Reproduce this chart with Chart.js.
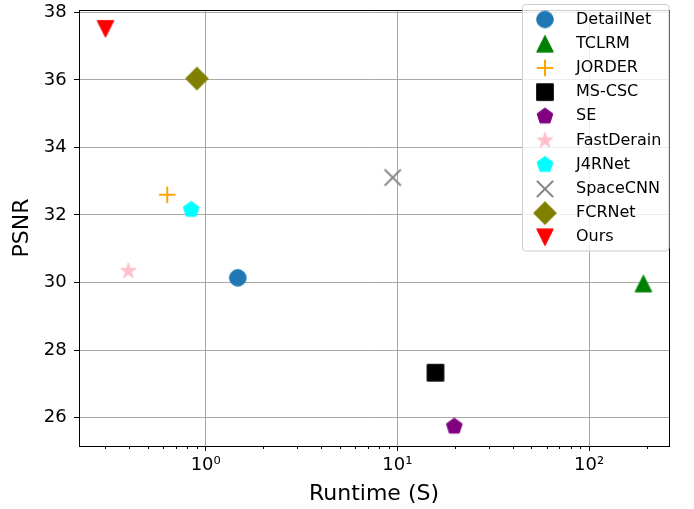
<!DOCTYPE html>
<html lang="en">
<head>
    <meta charset="UTF-8">
    <title>PSNR vs Runtime</title>
    <script src="https://cdn.jsdelivr.net/npm/chart.js"></script>
    <style>
        html, body { margin: 0; padding: 0; background: #fff; }
    </style>
</head>
<body>
    <canvas id="psnrChart" width="694" height="509"></canvas>

    <script>
        // data
        const methods = ['DetailNet', 'TCLRM', 'JORDER', 'MS-CSC', 'SE', 'FastDerain', 'J4RNet', 'SpaceCNN', 'FCRNet', 'Ours'];
        const runtimes = [1.47, 192, 0.63, 15.8, 19.8, 0.395, 0.84, 9.45, 0.90, 0.30];
        const psnrValues = [30.14, 29.97, 32.60, 27.33, 25.74, 30.34, 32.16, 33.11, 36.04, 37.51];
        const markerShapes = ['circle', 'triangleUp', 'plus', 'square', 'pentagon', 'star', 'pentagon', 'cross', 'diamond', 'triangleDown'];
        const markerColors = ['#1f77b4', '#008000', '#ffa500', '#000000', '#800080', '#ffc0cb', '#00ffff', '#808080', '#808000', '#ff0000'];
        const xMajorTicks = [1, 10, 100];
        const xTickLabels = ['10⁰', '10¹', '10²'];
        const xMinorTicks = [0.3, 0.4, 0.5, 0.6, 0.7, 0.8, 0.9, 2, 3, 4, 5, 6, 7, 8, 9, 20, 30, 40, 50, 60, 70, 80, 90, 200];
        const yTicks = [26, 28, 30, 32, 34, 36, 38];

        const FONT = "'DejaVu Sans', sans-serif";

        // matplotlib-like marker drawn on a small canvas, used as pointStyle
        function makeMarker(shape, color) {
            const size = 28, c = size / 2, r = 8.3;
            const cv = document.createElement('canvas');
            cv.width = size;
            cv.height = size;
            const g = cv.getContext('2d');
            g.fillStyle = color;
            g.strokeStyle = color;
            g.lineWidth = 1;
            g.beginPath();
            if (shape === 'plus' || shape === 'cross') {
                g.lineWidth = 2;
                if (shape === 'plus') {
                    g.moveTo(c - r, c); g.lineTo(c + r, c);
                    g.moveTo(c, c - r); g.lineTo(c, c + r);
                } else {
                    const d = r * 0.98;
                    g.moveTo(c - d, c - d); g.lineTo(c + d, c + d);
                    g.moveTo(c - d, c + d); g.lineTo(c + d, c - d);
                }
                g.stroke();
                return cv;
            }
            if (shape === 'circle') {
                g.arc(c, c, r, 0, Math.PI * 2);
            } else if (shape === 'square') {
                g.rect(c - r, c - r, 2 * r, 2 * r);
            } else if (shape === 'diamond') {
                const d = 11.4;
                g.moveTo(c, c - d); g.lineTo(c + d, c); g.lineTo(c, c + d); g.lineTo(c - d, c);
                g.closePath();
            } else if (shape === 'triangleUp') {
                g.moveTo(c, c - r); g.lineTo(c + r, c + r); g.lineTo(c - r, c + r);
                g.closePath();
            } else if (shape === 'triangleDown') {
                g.moveTo(c, c + r); g.lineTo(c + r, c - r); g.lineTo(c - r, c - r);
                g.closePath();
            } else if (shape === 'pentagon' || shape === 'star') {
                const n = shape === 'star' ? 10 : 5;
                for (let i = 0; i < n; i++) {
                    const rad = (shape === 'star' && i % 2) ? r * 0.381966 : r;
                    const a = -Math.PI / 2 + i * 2 * Math.PI / n;
                    const px = c + rad * Math.cos(a), py = c + rad * Math.sin(a);
                    if (i === 0) g.moveTo(px, py); else g.lineTo(px, py);
                }
                g.closePath();
            }
            g.fill();
            g.stroke();
            return cv;
        }

        const datasets = methods.map((name, i) => ({
            label: name,
            data: [{ x: runtimes[i], y: psnrValues[i] }],
            pointStyle: makeMarker(markerShapes[i], markerColors[i]),
            pointRadius: 9,
            pointHoverRadius: 9,
            backgroundColor: markerColors[i],
            borderColor: markerColors[i]
        }));

        // top/right spines, minor ticks and the boxed legend inside the axes
        const framePlugin = {
            id: 'frameAndLegend',
            afterDraw(chart) {
                const ctx = chart.ctx;
                const area = chart.chartArea;
                const xs = chart.scales.x;
                ctx.save();

                ctx.strokeStyle = '#000';
                ctx.lineWidth = 1;
                ctx.beginPath();
                xMinorTicks.forEach(v => {
                    const px = Math.round(xs.getPixelForValue(v)) + 0.5;
                    ctx.moveTo(px, area.bottom);
                    ctx.lineTo(px, area.bottom + 3);
                });
                ctx.stroke();
                ctx.strokeRect(Math.round(area.left) + 0.5, Math.round(area.top) + 0.5,
                    Math.round(area.right - area.left), Math.round(area.bottom - area.top));

                // legend
                const lx = 522.5, ly = 4.5, lw = 146.5, lh = 246.5;
                ctx.beginPath();
                ctx.roundRect(lx, ly, lw, lh, 3);
                ctx.fillStyle = 'rgba(255,255,255,0.8)';
                ctx.fill();
                ctx.strokeStyle = '#cccccc';
                ctx.stroke();

                ctx.font = '16px ' + FONT;
                ctx.fillStyle = '#000';
                ctx.textAlign = 'left';
                ctx.textBaseline = 'middle';
                chart.data.datasets.forEach((ds, i) => {
                    const cy = 19.5 + i * 24.2;
                    const img = ds.pointStyle;
                    ctx.drawImage(img, 545 - img.width / 2, cy - img.height / 2);
                    ctx.fillText(ds.label, 576, cy);
                });
                ctx.restore();
            }
        };

        new Chart(document.getElementById('psnrChart'), {
            type: 'scatter',
            data: { datasets: datasets },
            options: {
                responsive: false,
                animation: false,
                events: [],
                layout: { padding: { top: 5, right: 25, left: 0, bottom: 0 } },
                plugins: {
                    legend: { display: false },
                    tooltip: { enabled: false }
                },
                scales: {
                    x: {
                        type: 'logarithmic',
                        min: 0.2183,
                        max: 261.1,
                        afterFit: s => {
                            s.height = 63;
                            s.paddingLeft = 0;
                            s.paddingRight = 0;
                        },
                        afterBuildTicks: s => { s.ticks = xMajorTicks.map(v => ({ value: v, major: true })); },
                        border: { display: true, color: '#000', width: 1 },
                        grid: { color: '#a8a8a8', lineWidth: 1, tickLength: 5, tickColor: '#000' },
                        ticks: {
                            autoSkip: false,
                            maxRotation: 0,
                            padding: 3.5,
                            color: '#000',
                            font: { family: FONT, size: 18 },
                            callback: v => xTickLabels[xMajorTicks.indexOf(v)]
                        },
                        title: {
                            display: true,
                            text: 'Runtime (S)',
                            color: '#000',
                            font: { family: FONT, size: 22 },
                            padding: { top: 0, bottom: 1.7 }
                        }
                    },
                    y: {
                        min: 25.16,
                        max: 38.07,
                        afterFit: s => {
                            s.width = 79;
                            s.paddingTop = 0;
                            s.paddingBottom = 0;
                        },
                        afterBuildTicks: s => { s.ticks = yTicks.map(v => ({ value: v })); },
                        border: { display: true, color: '#000', width: 1 },
                        grid: { color: '#a8a8a8', lineWidth: 1, tickLength: 5, tickColor: '#000' },
                        ticks: {
                            padding: 7.3,
                            color: '#000',
                            font: { family: FONT, size: 18 }
                        },
                        title: {
                            display: true,
                            text: 'PSNR',
                            color: '#000',
                            font: { family: FONT, size: 22 },
                            padding: { top: 9.3, bottom: 0 }
                        }
                    }
                }
            },
            plugins: [framePlugin]
        });
    </script>
</body>
</html>
